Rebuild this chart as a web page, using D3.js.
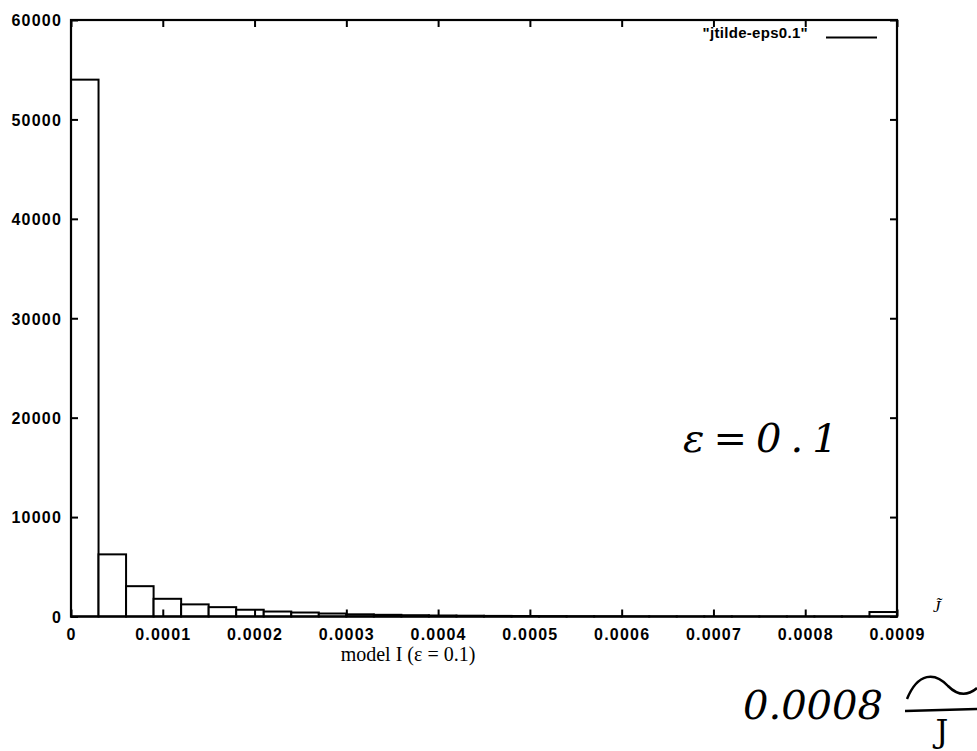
<!DOCTYPE html>
<html>
<head>
<meta charset="utf-8">
<script src="https://cdn.jsdelivr.net/npm/d3@7"></script>
<style>
  html, body { margin: 0; padding: 0; background: #fff; }
  svg { display: block; }
</style>
</head>
<body>
<svg id="chart" width="977" height="751"></svg>
<script>
// ---- data ----
const binWidth = 0.00003;
const binStarts = [0, 0.00003, 0.00006, 0.00009, 0.00012, 0.00015, 0.00018, 0.00021, 0.00024, 0.00027,
                   0.0003, 0.00033, 0.00036, 0.00039, 0.00042, 0.00045, 0.00048, 0.00051, 0.00054, 0.00057,
                   0.0006, 0.00063, 0.00066, 0.00069, 0.00072, 0.00075, 0.00078, 0.00081, 0.00084, 0.00087];
const counts = [54000, 6250, 3050, 1780, 1220, 940, 680, 500, 400, 300,
                220, 170, 130, 100, 80, 60, 50, 40, 30, 25,
                20, 15, 12, 10, 8, 6, 5, 4, 3, 450];
const xTicks = [0, 0.0001, 0.0002, 0.0003, 0.0004, 0.0005, 0.0006, 0.0007, 0.0008, 0.0009];
const xTickLabels = ["0", "0.0001", "0.0002", "0.0003", "0.0004", "0.0005", "0.0006", "0.0007", "0.0008", "0.0009"];
const yTicks = [0, 10000, 20000, 30000, 40000, 50000, 60000];
const yTickLabels = ["0", "10000", "20000", "30000", "40000", "50000", "60000"];
const seriesName = "\"jtilde-eps0.1\"";
const xLabel = "model I (\u03B5 = 0.1)";

// ---- layout ----
const svg = d3.select("#chart");
const L = 71, R = 897, T = 20, B = 616.5;
const x = d3.scaleLinear().domain([0, 0.0009]).range([L, R]);
const y = d3.scaleLinear().domain([0, 60000]).range([B, T]);
const tickFont = "'Liberation Sans', Arial, sans-serif";

// bars
svg.append("g").selectAll("rect")
  .data(binStarts.map((s, i) => ({ s, c: counts[i] })))
  .join("rect")
  .attr("x", d => x(d.s))
  .attr("y", d => y(d.c))
  .attr("width", d => x(d.s + binWidth) - x(d.s))
  .attr("height", d => y(0) - y(d.c))
  .attr("fill", "#fff")
  .attr("stroke", "#000")
  .attr("stroke-width", 2);

// axes (gnuplot-style inward ticks on all sides)
const tl = 7;
const axB = svg.append("g").attr("transform", `translate(0,${B})`)
  .call(d3.axisBottom(x).tickValues(xTicks).tickFormat((d, i) => xTickLabels[i]).tickSize(-tl).tickPadding(12));
const axT = svg.append("g").attr("transform", `translate(0,${T})`)
  .call(d3.axisTop(x).tickValues(xTicks).tickFormat("").tickSize(-tl));
const axL = svg.append("g").attr("transform", `translate(${L},0)`)
  .call(d3.axisLeft(y).tickValues(yTicks).tickFormat((d, i) => yTickLabels[i]).tickSize(-tl).tickPadding(9));
const axR = svg.append("g").attr("transform", `translate(${R},0)`)
  .call(d3.axisRight(y).tickValues(yTicks).tickFormat("").tickSize(-tl));

[axB, axT, axL, axR].forEach(a => {
  a.select(".domain").remove();
  a.selectAll("line").attr("stroke", "#000").attr("stroke-width", 2);
  a.selectAll("text")
    .attr("fill", "#000")
    .attr("font-family", tickFont)
    .attr("font-weight", "bold")
    .attr("font-size", 16)
    .attr("letter-spacing", 1.2);
});
axL.selectAll("text").attr("dy", "0.36em");

// frame
svg.append("rect")
  .attr("x", L).attr("y", T)
  .attr("width", R - L).attr("height", B - T)
  .attr("fill", "none").attr("stroke", "#000").attr("stroke-width", 2.2);

// legend
svg.append("text")
  .attr("x", 808).attr("y", 38)
  .attr("text-anchor", "end")
  .attr("font-family", tickFont)
  .attr("font-weight", "bold")
  .attr("font-size", 15)
  .attr("letter-spacing", 0.3)
  .text(seriesName);
svg.append("line")
  .attr("x1", 826).attr("x2", 877).attr("y1", 37.5).attr("y2", 37.5)
  .attr("stroke", "#000").attr("stroke-width", 2);

// x label
svg.append("text")
  .attr("x", 408).attr("y", 661)
  .attr("text-anchor", "middle")
  .attr("font-family", "'Liberation Serif', 'Times New Roman', serif")
  .attr("font-size", 20)
  .text(xLabel);

// printed J~ next to axis end
svg.append("text")
  .attr("x", 933).attr("y", 612)
  .attr("font-family", "'Liberation Serif', serif")
  .attr("font-style", "italic")
  .attr("font-size", 17)
  .text("J\u0303");

// handwritten annotations
const hand = "'DejaVu Serif', serif";
svg.append("text")
  .attr("x", 683).attr("y", 452)
  .attr("font-family", hand)
  .attr("font-style", "italic")
  .attr("font-size", 40)
  .attr("letter-spacing", 9)
  .text("\u03B5=0.1");
svg.append("text")
  .attr("x", 743).attr("y", 719)
  .attr("font-family", hand)
  .attr("font-style", "italic")
  .attr("font-size", 40)
  .text("0.0008");
// handwritten tilde stroke and fraction bar
svg.append("path")
  .attr("d", "M907,699 C918,672 935,672 948,686 C960,698 970,694 977,688")
  .attr("fill", "none").attr("stroke", "#000").attr("stroke-width", 2.5);
svg.append("line")
  .attr("x1", 905).attr("x2", 977).attr("y1", 711).attr("y2", 709)
  .attr("stroke", "#000").attr("stroke-width", 2.5);
svg.append("text")
  .attr("x", 942).attr("y", 742)
  .attr("text-anchor", "middle")
  .attr("font-family", hand)
  .attr("font-size", 32)
  .text("J");
</script>
</body>
</html>
